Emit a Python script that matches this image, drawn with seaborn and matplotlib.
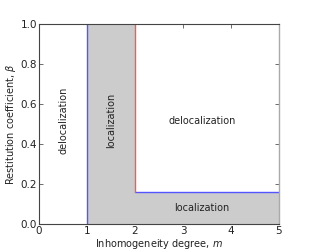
import matplotlib
matplotlib.use("Agg")
import matplotlib.pyplot as plt
import seaborn as sns

# data
m_blue_v = [1, 1]
b_blue_v = [0, 1]
m_blue_h = [2, 5]
b_blue_h = [0.16, 0.16]
m_red_v = [2, 2]
b_red_v = [0.16, 1]
fill_left_m = [1, 2]
fill_left_top = [1, 1]
fill_right_m = [2, 5]
fill_right_top = [0.16, 0.16]
labels = ["delocalization", "localization", "delocalization", "localization"]
label_x = [0.5, 1.5, 3.4, 3.4]
label_y = [0.52, 0.52, 0.515, 0.08]
label_rot = [90, 90, 0, 0]

sns.set_style("white")
plt.rcParams['font.family'] = ['DejaVu Sans']

fig = plt.figure(figsize=(3.1, 2.5), dpi=100)
ax = fig.add_axes([0.126, 0.104, 0.774, 0.8])

ax.fill_between(fill_left_m, 0, fill_left_top, color="#cccccc", linewidth=0)
ax.fill_between(fill_right_m, 0, fill_right_top, color="#cccccc", linewidth=0)

kw = dict(ax=ax, linewidth=1, sort=False, estimator=None)
sns.lineplot(x=m_blue_v, y=b_blue_v, color="#5555ff", **kw)
sns.lineplot(x=m_blue_h, y=b_blue_h, color="#5555ff", **kw)
sns.lineplot(x=m_red_v, y=b_red_v, color="#ff5555", **kw)

for t, x, y, r in zip(labels, label_x, label_y, label_rot):
    ax.text(x, y, t, rotation=r, ha="center", va="center", fontsize=7, color="#222222")

ax.set_xlim(0, 5)
ax.set_ylim(0, 1)
ax.set_xticks([0, 1, 2, 3, 4, 5])
ax.set_yticks([0.0, 0.2, 0.4, 0.6, 0.8, 1.0])
ax.set_yticklabels(["0.0", "0.2", "0.4", "0.6", "0.8", "1.0"])
ax.tick_params(direction="in", length=3, width=0.6, labelsize=7.5, top=True, right=True,
               bottom=True, left=True, pad=1.5, color="#555555", labelcolor="#222222")
ax.set_xlabel("Inhomogeneity degree, $m$", fontsize=7, labelpad=0.5, color="#222222")
ax.set_ylabel("Restitution coefficient, $\\beta$", fontsize=7, labelpad=2, color="#222222")
for s in ["left", "top", "bottom"]:
    ax.spines[s].set_color("#444444")
    ax.spines[s].set_linewidth(0.8)
ax.spines["right"].set_color("#aaaaaa")
ax.spines["right"].set_linewidth(1.0)

fig.savefig("out.png", dpi=100)
